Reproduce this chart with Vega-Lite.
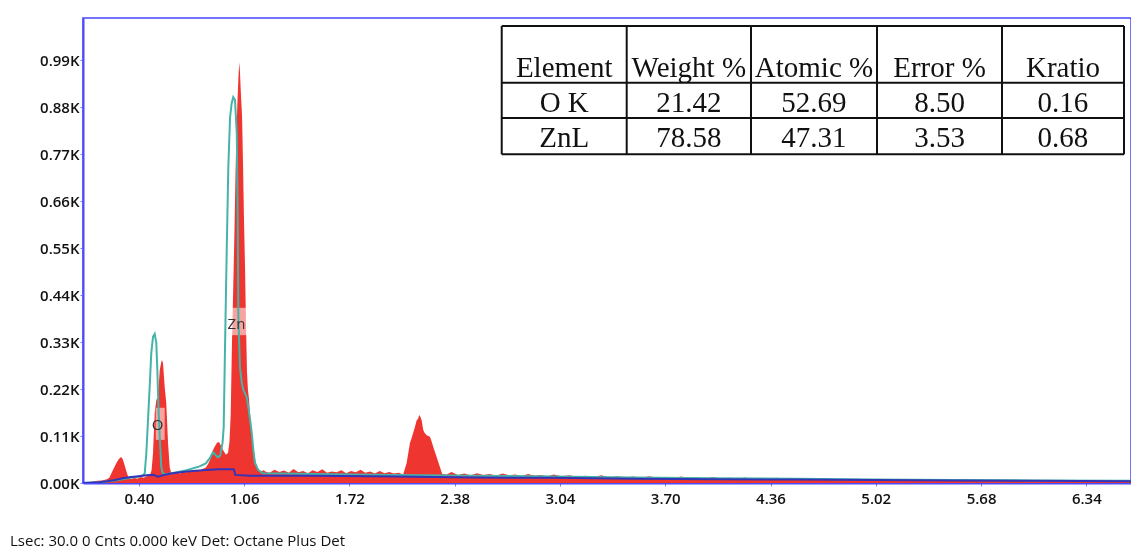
{
  "$schema": "https://vega.github.io/schema/vega-lite/v6.json",
  "width": 1048,
  "height": 465,
  "autosize": "none",
  "padding": {"left": 83, "top": 18, "right": 0, "bottom": 67},
  "background": "white",
  "config": {
    "view": {"stroke": "#4646ff", "strokeWidth": 1.5},
    "axis": {"labelFont": "Open Sans", "labelFontSize": 15, "labelFontWeight": 600, "labelColor": "#111", "grid": false, "title": null, "tickColor": "#7a7aff", "tickSize": 3, "domainColor": "#4a4aff", "domainWidth": 2}
  },
  "title": {"text": "Lsec: 30.0 0 Cnts  0.000 keV Det: Octane Plus Det", "orient": "bottom", "anchor": "start", "frame": "group", "dx": -73, "offset": 28, "font": "Open Sans", "fontSize": 15, "fontWeight": "normal", "color": "#111"},
  "datasets": {
    "spectrum": [
      {"e": 0.05, "c": 0.0}, {"e": 0.08, "c": 0.001}, {"e": 0.11, "c": 0.003}, {"e": 0.14, "c": 0.005}, {"e": 0.17, "c": 0.006}, {"e": 0.2, "c": 0.009}, {"e": 0.215, "c": 0.012},
      {"e": 0.226, "c": 0.021}, {"e": 0.244, "c": 0.035}, {"e": 0.263, "c": 0.049}, {"e": 0.275, "c": 0.056}, {"e": 0.288, "c": 0.061}, {"e": 0.298, "c": 0.057}, {"e": 0.307, "c": 0.047}, {"e": 0.32, "c": 0.03}, {"e": 0.332, "c": 0.016}, {"e": 0.351, "c": 0.009},
      {"e": 0.37, "c": 0.012}, {"e": 0.39, "c": 0.01}, {"e": 0.41, "c": 0.014}, {"e": 0.43, "c": 0.012}, {"e": 0.45, "c": 0.016}, {"e": 0.47, "c": 0.019}, {"e": 0.48, "c": 0.03},
      {"e": 0.489, "c": 0.07}, {"e": 0.4995, "c": 0.164}, {"e": 0.5095, "c": 0.194}, {"e": 0.52, "c": 0.201}, {"e": 0.531, "c": 0.264}, {"e": 0.541, "c": 0.283}, {"e": 0.545, "c": 0.288}, {"e": 0.5515, "c": 0.281}, {"e": 0.562, "c": 0.225}, {"e": 0.572, "c": 0.187}, {"e": 0.583, "c": 0.094}, {"e": 0.5935, "c": 0.037}, {"e": 0.6036, "c": 0.023},
      {"e": 0.62, "c": 0.021}, {"e": 0.64, "c": 0.024}, {"e": 0.66, "c": 0.022}, {"e": 0.68, "c": 0.026}, {"e": 0.7, "c": 0.025}, {"e": 0.72, "c": 0.028}, {"e": 0.74, "c": 0.026}, {"e": 0.76, "c": 0.031}, {"e": 0.78, "c": 0.028}, {"e": 0.8, "c": 0.033}, {"e": 0.82, "c": 0.036}, {"e": 0.835, "c": 0.045}, {"e": 0.846, "c": 0.054}, {"e": 0.858, "c": 0.07}, {"e": 0.871, "c": 0.082}, {"e": 0.89, "c": 0.094}, {"e": 0.903, "c": 0.096}, {"e": 0.915, "c": 0.087}, {"e": 0.928, "c": 0.077}, {"e": 0.946, "c": 0.066}, {"e": 0.959, "c": 0.07}, {"e": 0.968, "c": 0.095}, {"e": 0.976, "c": 0.16},
      {"e": 0.984, "c": 0.33}, {"e": 0.992, "c": 0.46}, {"e": 1.0, "c": 0.6}, {"e": 1.006, "c": 0.72}, {"e": 1.012, "c": 0.82}, {"e": 1.019, "c": 0.9}, {"e": 1.025, "c": 0.955}, {"e": 1.03, "c": 0.985}, {"e": 1.034, "c": 0.962}, {"e": 1.04, "c": 0.91}, {"e": 1.047, "c": 0.86}, {"e": 1.053, "c": 0.75}, {"e": 1.059, "c": 0.62}, {"e": 1.066, "c": 0.5}, {"e": 1.072, "c": 0.37}, {"e": 1.078, "c": 0.26}, {"e": 1.084, "c": 0.218}, {"e": 1.091, "c": 0.195}, {"e": 1.097, "c": 0.16}, {"e": 1.106, "c": 0.12}, {"e": 1.116, "c": 0.082}, {"e": 1.128, "c": 0.056}, {"e": 1.141, "c": 0.037}, {"e": 1.16, "c": 0.026},
      {"e": 1.18, "c": 0.03}, {"e": 1.2, "c": 0.026}, {"e": 1.22, "c": 0.024}, {"e": 1.25, "c": 0.031}, {"e": 1.28, "c": 0.026}, {"e": 1.31, "c": 0.029}, {"e": 1.34, "c": 0.024}, {"e": 1.37, "c": 0.033}, {"e": 1.4, "c": 0.025}, {"e": 1.43, "c": 0.028}, {"e": 1.46, "c": 0.023}, {"e": 1.49, "c": 0.03}, {"e": 1.52, "c": 0.026}, {"e": 1.55, "c": 0.032}, {"e": 1.58, "c": 0.024}, {"e": 1.61, "c": 0.027}, {"e": 1.64, "c": 0.025}, {"e": 1.67, "c": 0.03}, {"e": 1.7, "c": 0.023}, {"e": 1.73, "c": 0.028}, {"e": 1.76, "c": 0.025}, {"e": 1.79, "c": 0.031}, {"e": 1.82, "c": 0.024}, {"e": 1.85, "c": 0.027}, {"e": 1.88, "c": 0.022}, {"e": 1.91, "c": 0.028}, {"e": 1.94, "c": 0.023}, {"e": 1.97, "c": 0.026}, {"e": 2.0, "c": 0.022}, {"e": 2.03, "c": 0.024}, {"e": 2.05, "c": 0.021},
      {"e": 2.058, "c": 0.021}, {"e": 2.079, "c": 0.047}, {"e": 2.1, "c": 0.094}, {"e": 2.11, "c": 0.105}, {"e": 2.121, "c": 0.119}, {"e": 2.13, "c": 0.13}, {"e": 2.142, "c": 0.147}, {"e": 2.15, "c": 0.15}, {"e": 2.158, "c": 0.159}, {"e": 2.165, "c": 0.155}, {"e": 2.173, "c": 0.147}, {"e": 2.183, "c": 0.124}, {"e": 2.19, "c": 0.118}, {"e": 2.204, "c": 0.112}, {"e": 2.215, "c": 0.11}, {"e": 2.225, "c": 0.108}, {"e": 2.235, "c": 0.098}, {"e": 2.246, "c": 0.084}, {"e": 2.267, "c": 0.061}, {"e": 2.288, "c": 0.037}, {"e": 2.302, "c": 0.021},
      {"e": 2.33, "c": 0.02}, {"e": 2.36, "c": 0.026}, {"e": 2.4, "c": 0.019}, {"e": 2.44, "c": 0.022}, {"e": 2.48, "c": 0.018}, {"e": 2.52, "c": 0.023}, {"e": 2.56, "c": 0.019}, {"e": 2.6, "c": 0.021}, {"e": 2.64, "c": 0.017}, {"e": 2.68, "c": 0.022}, {"e": 2.72, "c": 0.018}, {"e": 2.76, "c": 0.02}, {"e": 2.8, "c": 0.016}, {"e": 2.84, "c": 0.021}, {"e": 2.88, "c": 0.017}, {"e": 2.92, "c": 0.019}, {"e": 2.96, "c": 0.015}, {"e": 3.0, "c": 0.02}, {"e": 3.05, "c": 0.016}, {"e": 3.1, "c": 0.018}, {"e": 3.15, "c": 0.014}, {"e": 3.2, "c": 0.017}, {"e": 3.25, "c": 0.014}, {"e": 3.3, "c": 0.018}, {"e": 3.35, "c": 0.013}, {"e": 3.4, "c": 0.016}, {"e": 3.45, "c": 0.013}, {"e": 3.5, "c": 0.015}, {"e": 3.55, "c": 0.012}, {"e": 3.6, "c": 0.016}, {"e": 3.65, "c": 0.012}, {"e": 3.7, "c": 0.014}, {"e": 3.75, "c": 0.011}, {"e": 3.8, "c": 0.015}, {"e": 3.85, "c": 0.011}, {"e": 3.9, "c": 0.013}, {"e": 3.95, "c": 0.01}, {"e": 4.0, "c": 0.014}, {"e": 4.05, "c": 0.01}, {"e": 4.1, "c": 0.012}, {"e": 4.15, "c": 0.01}, {"e": 4.2, "c": 0.013}, {"e": 4.25, "c": 0.009}, {"e": 4.3, "c": 0.011}, {"e": 4.35, "c": 0.009}, {"e": 4.4, "c": 0.012}, {"e": 4.45, "c": 0.008}, {"e": 4.5, "c": 0.011}, {"e": 4.55, "c": 0.008}, {"e": 4.6, "c": 0.01}, {"e": 4.65, "c": 0.008}, {"e": 4.7, "c": 0.011}, {"e": 4.75, "c": 0.007}, {"e": 4.8, "c": 0.009}, {"e": 4.85, "c": 0.007}, {"e": 4.9, "c": 0.01}, {"e": 4.95, "c": 0.007}, {"e": 5.0, "c": 0.009}, {"e": 5.05, "c": 0.006}, {"e": 5.1, "c": 0.009}, {"e": 5.15, "c": 0.006}, {"e": 5.2, "c": 0.008}, {"e": 5.3, "c": 0.006}, {"e": 5.35, "c": 0.008}, {"e": 5.4, "c": 0.005}, {"e": 5.5, "c": 0.008}, {"e": 5.6, "c": 0.005}, {"e": 5.65, "c": 0.007}, {"e": 5.7, "c": 0.005}, {"e": 5.8, "c": 0.007}, {"e": 5.9, "c": 0.005}, {"e": 5.95, "c": 0.007}, {"e": 6.0, "c": 0.004}, {"e": 6.1, "c": 0.006}, {"e": 6.2, "c": 0.004}, {"e": 6.25, "c": 0.006}, {"e": 6.3, "c": 0.004}, {"e": 6.4, "c": 0.006}, {"e": 6.5, "c": 0.004}, {"e": 6.55, "c": 0.005}, {"e": 6.62, "c": 0.004}
    ],
    "fit": [
      {"e": 0.05, "c": 0.0}, {"e": 0.15, "c": 0.002}, {"e": 0.25, "c": 0.006}, {"e": 0.35, "c": 0.012}, {"e": 0.4, "c": 0.015}, {"e": 0.43, "c": 0.019}, {"e": 0.437, "c": 0.023}, {"e": 0.447, "c": 0.07}, {"e": 0.4575, "c": 0.147}, {"e": 0.468, "c": 0.225}, {"e": 0.478, "c": 0.304}, {"e": 0.489, "c": 0.342}, {"e": 0.4995, "c": 0.349}, {"e": 0.5095, "c": 0.328}, {"e": 0.516, "c": 0.265}, {"e": 0.522, "c": 0.187}, {"e": 0.531, "c": 0.108}, {"e": 0.541, "c": 0.037}, {"e": 0.5515, "c": 0.021},
      {"e": 0.58, "c": 0.021}, {"e": 0.62, "c": 0.024}, {"e": 0.7, "c": 0.03}, {"e": 0.78, "c": 0.039}, {"e": 0.82, "c": 0.046}, {"e": 0.845, "c": 0.058}, {"e": 0.865, "c": 0.072}, {"e": 0.88, "c": 0.066}, {"e": 0.895, "c": 0.06}, {"e": 0.91, "c": 0.064}, {"e": 0.925, "c": 0.095}, {"e": 0.932, "c": 0.13}, {"e": 0.94, "c": 0.311}, {"e": 0.951, "c": 0.545}, {"e": 0.961, "c": 0.739}, {"e": 0.972, "c": 0.856}, {"e": 0.982, "c": 0.889}, {"e": 0.992, "c": 0.903}, {"e": 1.003, "c": 0.896}, {"e": 1.014, "c": 0.819}, {"e": 1.02, "c": 0.622}, {"e": 1.024, "c": 0.388}, {"e": 1.034, "c": 0.271}, {"e": 1.045, "c": 0.235}, {"e": 1.055, "c": 0.218}, {"e": 1.076, "c": 0.201}, {"e": 1.086, "c": 0.178}, {"e": 1.097, "c": 0.15}, {"e": 1.108, "c": 0.117}, {"e": 1.118, "c": 0.077}, {"e": 1.128, "c": 0.047}, {"e": 1.149, "c": 0.03}, {"e": 1.178, "c": 0.023},
      {"e": 1.5, "c": 0.021}, {"e": 2.0, "c": 0.019}, {"e": 2.5, "c": 0.017}, {"e": 3.0, "c": 0.015}, {"e": 3.5, "c": 0.013}, {"e": 4.0, "c": 0.011}, {"e": 4.5, "c": 0.01}, {"e": 5.0, "c": 0.008}, {"e": 5.5, "c": 0.007}, {"e": 6.0, "c": 0.006}, {"e": 6.62, "c": 0.005}
    ],
    "background": [
      {"e": 0.05, "c": 0.0}, {"e": 0.15, "c": 0.002}, {"e": 0.2, "c": 0.004}, {"e": 0.25, "c": 0.007}, {"e": 0.3, "c": 0.011}, {"e": 0.35, "c": 0.014}, {"e": 0.4, "c": 0.016}, {"e": 0.45, "c": 0.018}, {"e": 0.49, "c": 0.019}, {"e": 0.52, "c": 0.015}, {"e": 0.55, "c": 0.018}, {"e": 0.6, "c": 0.022}, {"e": 0.7, "c": 0.027}, {"e": 0.8, "c": 0.03}, {"e": 0.9, "c": 0.032}, {"e": 0.995, "c": 0.032}, {"e": 1.005, "c": 0.019}, {"e": 1.1, "c": 0.017}, {"e": 1.5, "c": 0.017}, {"e": 2.0, "c": 0.015}, {"e": 2.5, "c": 0.013}, {"e": 3.0, "c": 0.012}, {"e": 3.5, "c": 0.01}, {"e": 4.0, "c": 0.009}, {"e": 4.5, "c": 0.008}, {"e": 5.0, "c": 0.007}, {"e": 5.5, "c": 0.006}, {"e": 6.0, "c": 0.005}, {"e": 6.62, "c": 0.004}
    ],
    "peaks": [
      {"label": "O", "e": 0.518, "c": 0.1357, "e1": 0.506, "e2": 0.562, "c1": 0.101, "c2": 0.176},
      {"label": "Zn", "e": 1.012, "c": 0.372, "e1": 0.951, "e2": 1.085, "c1": 0.346, "c2": 0.41}
    ],
    "tableLines": [
      {"x1": 2.675, "x2": 6.5761, "y1": 1.0696, "y2": 1.0696},
      {"x1": 2.675, "x2": 6.5761, "y1": 0.9369, "y2": 0.9369},
      {"x1": 2.675, "x2": 6.5761, "y1": 0.8542, "y2": 0.8542},
      {"x1": 2.675, "x2": 6.5761, "y1": 0.7693, "y2": 0.7693},
      {"x1": 2.675, "x2": 2.675, "y1": 0.7693, "y2": 1.0696},
      {"x1": 3.4585, "x2": 3.4585, "y1": 0.7693, "y2": 1.0696},
      {"x1": 4.2377, "x2": 4.2377, "y1": 0.7693, "y2": 1.0696},
      {"x1": 5.0276, "x2": 5.0276, "y1": 0.7693, "y2": 1.0696},
      {"x1": 5.8113, "x2": 5.8113, "y1": 0.7693, "y2": 1.0696},
      {"x1": 6.5761, "x2": 6.5761, "y1": 0.7693, "y2": 1.0696}
    ],
    "tableText": [
      {"x": 3.0668, "y": 0.9509, "t": "Element"},
      {"x": 3.848, "y": 0.9509, "t": "Weight %"},
      {"x": 4.6327, "y": 0.9509, "t": "Atomic %"},
      {"x": 5.4195, "y": 0.9509, "t": "Error %"},
      {"x": 6.1937, "y": 0.9509, "t": "Kratio"},
      {"x": 3.0668, "y": 0.869, "t": "O K"},
      {"x": 3.848, "y": 0.869, "t": "21.42"},
      {"x": 4.6327, "y": 0.869, "t": "52.69"},
      {"x": 5.4195, "y": 0.869, "t": "8.50"},
      {"x": 6.1937, "y": 0.869, "t": "0.16"},
      {"x": 3.0668, "y": 0.7871, "t": "ZnL"},
      {"x": 3.848, "y": 0.7871, "t": "78.58"},
      {"x": 4.6327, "y": 0.7871, "t": "47.31"},
      {"x": 5.4195, "y": 0.7871, "t": "3.53"},
      {"x": 6.1937, "y": 0.7871, "t": "0.68"}
    ]
  },
  "layer": [
    {
      "data": {"name": "spectrum"},
      "mark": {"type": "area", "color": "#ee3530", "clip": true},
      "encoding": {
        "x": {"field": "e", "type": "quantitative", "scale": {"domain": [0.05, 6.62], "nice": false, "zero": false},
          "axis": {"values": [0.4, 1.06, 1.72, 2.38, 3.04, 3.7, 4.36, 5.02, 5.68, 6.34], "format": ".2f", "labelPadding": 5}},
        "y": {"field": "c", "type": "quantitative", "scale": {"domain": [0, 1.0883], "nice": false},
          "axis": {"values": [0, 0.11, 0.22, 0.33, 0.44, 0.55, 0.66, 0.77, 0.88, 0.99], "labelExpr": "format(datum.value, '.2f') + 'K'", "labelPadding": 1}}
      }
    },
    {
      "data": {"name": "peaks"},
      "mark": {"type": "rect", "color": "white", "opacity": 0.55},
      "encoding": {
        "x": {"field": "e1", "type": "quantitative"},
        "x2": {"field": "e2"},
        "y": {"field": "c1", "type": "quantitative"},
        "y2": {"field": "c2"}
      }
    },
    {
      "data": {"name": "fit"},
      "mark": {"type": "line", "color": "#45b3a8", "strokeWidth": 2, "blend": "multiply", "clip": true},
      "encoding": {
        "x": {"field": "e", "type": "quantitative"},
        "y": {"field": "c", "type": "quantitative"}
      }
    },
    {
      "data": {"name": "background"},
      "mark": {"type": "line", "color": "#3434b8", "strokeWidth": 2, "clip": true},
      "encoding": {
        "x": {"field": "e", "type": "quantitative"},
        "y": {"field": "c", "type": "quantitative"}
      }
    },
    {
      "data": {"name": "peaks"},
      "mark": {"type": "text", "font": "Open Sans", "fontSize": 15, "color": "#333"},
      "encoding": {
        "x": {"field": "e", "type": "quantitative"},
        "y": {"field": "c", "type": "quantitative"},
        "text": {"field": "label"}
      }
    },
    {
      "data": {"name": "tableLines"},
      "mark": {"type": "rule", "color": "#111", "strokeWidth": 2},
      "encoding": {
        "x": {"field": "x1", "type": "quantitative"},
        "x2": {"field": "x2"},
        "y": {"field": "y1", "type": "quantitative"},
        "y2": {"field": "y2"}
      }
    },
    {
      "data": {"name": "tableText"},
      "mark": {"type": "text", "font": "Liberation Serif", "fontSize": 29, "color": "#111", "baseline": "alphabetic", "align": "center"},
      "encoding": {
        "x": {"field": "x", "type": "quantitative"},
        "y": {"field": "y", "type": "quantitative"},
        "text": {"field": "t"}
      }
    }
  ]
}
